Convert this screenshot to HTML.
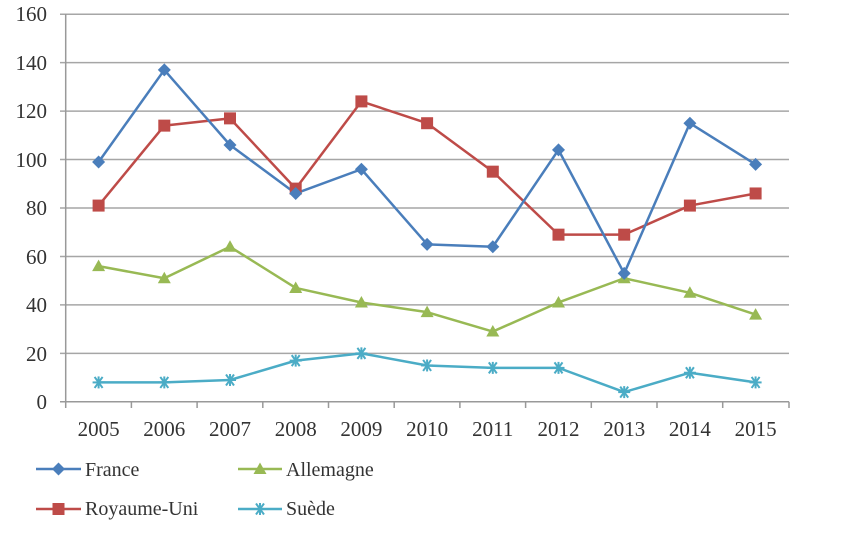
<!DOCTYPE html>
<html><head><meta charset="utf-8"><style>
html,body{margin:0;padding:0;background:#fff;}
svg{display:block;}
text{font-family:"Liberation Serif",serif;fill:#333;}
</style></head><body>
<svg width="856" height="533" viewBox="0 0 856 533" xmlns="http://www.w3.org/2000/svg">
<defs>
<g id="dia"><polygon points="0,-6.5 6.5,0 0,6.5 -6.5,0" fill="#4a7ebb"/></g>
<g id="sq"><rect x="-6" y="-6" width="12" height="12" fill="#be4b48"/></g>
<g id="tri"><polygon points="0,-6.5 6.5,5 -6.5,5" fill="#98b954"/></g>
<g id="star" stroke="#4bacc6" stroke-width="2" fill="none"><line x1="-6" y1="0" x2="6" y2="0"/><line x1="-4" y1="-5.5" x2="4" y2="5.5"/><line x1="-4" y1="5.5" x2="4" y2="-5.5"/><line x1="0" y1="-6" x2="0" y2="6"/></g>
</defs>
<!-- gridlines -->
<g stroke="#a6a6a6" stroke-width="1.5">
<line x1="60" y1="353.35" x2="789" y2="353.35"/>
<line x1="60" y1="304.9" x2="789" y2="304.9"/>
<line x1="60" y1="256.45" x2="789" y2="256.45"/>
<line x1="60" y1="208" x2="789" y2="208"/>
<line x1="60" y1="159.55" x2="789" y2="159.55"/>
<line x1="60" y1="111.1" x2="789" y2="111.1"/>
<line x1="60" y1="62.65" x2="789" y2="62.65"/>
<line x1="60" y1="14.2" x2="789" y2="14.2"/>
</g>
<!-- axes -->
<g stroke="#999" stroke-width="1.5">
<line x1="65.7" y1="14" x2="65.7" y2="401.8"/>
<line x1="60" y1="401.8" x2="789" y2="401.8"/>
<line x1="65.7" y1="401.8" x2="65.7" y2="408"/>
<line x1="131.4" y1="401.8" x2="131.4" y2="408"/>
<line x1="197.1" y1="401.8" x2="197.1" y2="408"/>
<line x1="262.8" y1="401.8" x2="262.8" y2="408"/>
<line x1="328.5" y1="401.8" x2="328.5" y2="408"/>
<line x1="394.2" y1="401.8" x2="394.2" y2="408"/>
<line x1="459.9" y1="401.8" x2="459.9" y2="408"/>
<line x1="525.6" y1="401.8" x2="525.6" y2="408"/>
<line x1="591.3" y1="401.8" x2="591.3" y2="408"/>
<line x1="657" y1="401.8" x2="657" y2="408"/>
<line x1="722.7" y1="401.8" x2="722.7" y2="408"/>
<line x1="789" y1="401.8" x2="789" y2="408"/>
</g>
<!-- y labels -->
<g font-size="21" text-anchor="end">
<text x="47" y="409">0</text>
<text x="47" y="361">20</text>
<text x="47" y="312">40</text>
<text x="47" y="264">60</text>
<text x="47" y="215">80</text>
<text x="47" y="167">100</text>
<text x="47" y="118">120</text>
<text x="47" y="70">140</text>
<text x="47" y="21">160</text>
</g>
<!-- x labels -->
<g font-size="21" text-anchor="middle">
<text x="98.6" y="436">2005</text>
<text x="164.3" y="436">2006</text>
<text x="230" y="436">2007</text>
<text x="295.7" y="436">2008</text>
<text x="361.4" y="436">2009</text>
<text x="427.1" y="436">2010</text>
<text x="492.8" y="436">2011</text>
<text x="558.5" y="436">2012</text>
<text x="624.2" y="436">2013</text>
<text x="689.9" y="436">2014</text>
<text x="755.6" y="436">2015</text>
</g>
<!-- series -->
<g fill="none" stroke-width="2.5" stroke-linejoin="round">
<polyline stroke="#4bacc6" points="98.6,382.42 164.3,382.42 230,380 295.7,360.62 361.4,353.35 427.1,365.46 492.8,367.88 558.5,367.88 624.2,392.11 689.9,372.73 755.6,382.42"/>
<polyline stroke="#98b954" points="98.6,266.14 164.3,278.25 230,246.76 295.7,287.94 361.4,302.48 427.1,312.17 492.8,331.55 558.5,302.48 624.2,278.25 689.9,292.79 755.6,314.59"/>
<polyline stroke="#be4b48" points="98.6,205.58 164.3,125.63 230,118.37 295.7,188.62 361.4,101.41 427.1,123.21 492.8,171.66 558.5,234.65 624.2,234.65 689.9,205.58 755.6,193.46"/>
<polyline stroke="#4a7ebb" points="98.6,161.97 164.3,69.92 230,145.01 295.7,193.46 361.4,169.24 427.1,244.34 492.8,246.76 558.5,149.86 624.2,273.41 689.9,123.21 755.6,164.39"/>
</g>
<!-- markers -->
<g>
<use href="#star" x="98.6" y="382.42"/><use href="#star" x="164.3" y="382.42"/><use href="#star" x="230" y="380"/><use href="#star" x="295.7" y="360.62"/><use href="#star" x="361.4" y="353.35"/><use href="#star" x="427.1" y="365.46"/><use href="#star" x="492.8" y="367.88"/><use href="#star" x="558.5" y="367.88"/><use href="#star" x="624.2" y="392.11"/><use href="#star" x="689.9" y="372.73"/><use href="#star" x="755.6" y="382.42"/>
<use href="#tri" x="98.6" y="266.14"/><use href="#tri" x="164.3" y="278.25"/><use href="#tri" x="230" y="246.76"/><use href="#tri" x="295.7" y="287.94"/><use href="#tri" x="361.4" y="302.48"/><use href="#tri" x="427.1" y="312.17"/><use href="#tri" x="492.8" y="331.55"/><use href="#tri" x="558.5" y="302.48"/><use href="#tri" x="624.2" y="278.25"/><use href="#tri" x="689.9" y="292.79"/><use href="#tri" x="755.6" y="314.59"/>
<use href="#sq" x="98.6" y="205.58"/><use href="#sq" x="164.3" y="125.63"/><use href="#sq" x="230" y="118.37"/><use href="#sq" x="295.7" y="188.62"/><use href="#sq" x="361.4" y="101.41"/><use href="#sq" x="427.1" y="123.21"/><use href="#sq" x="492.8" y="171.66"/><use href="#sq" x="558.5" y="234.65"/><use href="#sq" x="624.2" y="234.65"/><use href="#sq" x="689.9" y="205.58"/><use href="#sq" x="755.6" y="193.46"/>
<use href="#dia" x="98.6" y="161.97"/><use href="#dia" x="164.3" y="69.92"/><use href="#dia" x="230" y="145.01"/><use href="#dia" x="295.7" y="193.46"/><use href="#dia" x="361.4" y="169.24"/><use href="#dia" x="427.1" y="244.34"/><use href="#dia" x="492.8" y="246.76"/><use href="#dia" x="558.5" y="149.86"/><use href="#dia" x="624.2" y="273.41"/><use href="#dia" x="689.9" y="123.21"/><use href="#dia" x="755.6" y="164.39"/>
</g>
<!-- legend -->
<g stroke-width="2.5">
<line x1="36" y1="469" x2="81" y2="469" stroke="#4a7ebb"/>
<line x1="36" y1="509" x2="81" y2="509" stroke="#be4b48"/>
<line x1="238" y1="469" x2="282" y2="469" stroke="#98b954"/>
<line x1="238" y1="509" x2="282" y2="509" stroke="#4bacc6"/>
</g>
<use href="#dia" x="58.5" y="469"/>
<use href="#sq" x="58.5" y="509"/>
<use href="#tri" x="260" y="469"/>
<use href="#star" x="260" y="509"/>
<g font-size="20">
<text x="85" y="476">France</text>
<text x="85" y="515">Royaume-Uni</text>
<text x="286" y="476">Allemagne</text>
<text x="286" y="515">Suède</text>
</g>
</svg>
</body></html>
